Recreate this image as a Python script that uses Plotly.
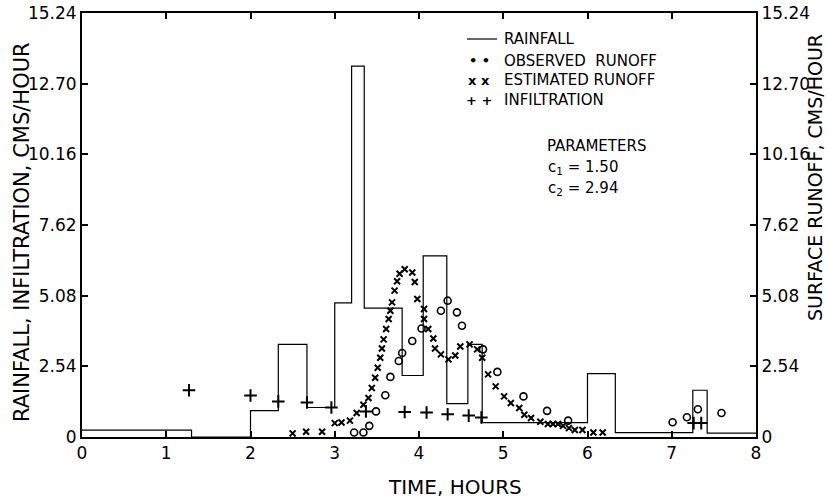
import plotly.graph_objects as go

# Rainfall step function (start times of each step, rate in cm/hour)
rain_t = [0.0, 1.3, 2.0, 2.33, 2.67, 3.0, 3.2, 3.35, 3.8, 4.05, 4.33, 4.58, 4.75, 6.0, 6.33, 7.25, 7.42, 8.0]
rain_v = [0.25, 0.0, 0.95, 3.33, 1.06, 4.82, 13.33, 4.63, 2.21, 6.51, 1.2, 3.33, 0.52, 2.28, 0.16, 1.68, 0.14, 0.14]

# Observed runoff
obs_t = [3.23, 3.34, 3.41, 3.49, 3.60, 3.66, 3.76, 3.80, 3.92, 4.03, 4.26, 4.34, 4.45, 4.51,
         4.76, 4.93, 5.24, 5.52, 5.77, 7.01, 7.18, 7.31, 7.59]
obs_v = [0.16, 0.16, 0.40, 0.92, 1.50, 2.16, 2.73, 3.02, 3.45, 3.90, 4.54, 4.90, 4.48, 4.00,
         3.15, 2.34, 1.46, 0.94, 0.59, 0.53, 0.71, 1.00, 0.86]

# Estimated runoff
est_t = [2.50, 2.66, 2.85, 3.00, 3.08, 3.18, 3.26, 3.34, 3.40, 3.44, 3.48, 3.51, 3.54, 3.56,
         3.58, 3.61, 3.64, 3.66, 3.68, 3.71, 3.74, 3.77, 3.83, 3.92, 3.95, 3.98, 4.06, 4.06,
         4.11, 4.17, 4.19, 4.26, 4.35, 4.43, 4.49, 4.60, 4.69, 4.75, 4.82, 4.91, 5.01, 5.09,
         5.19, 5.25, 5.33, 5.44, 5.53, 5.59, 5.65, 5.71, 5.78, 5.85, 5.94, 6.07, 6.18]
est_v = [0.13, 0.19, 0.19, 0.50, 0.52, 0.59, 0.86, 1.16, 1.40, 1.76, 2.13, 2.49, 2.85, 3.18,
         3.51, 3.88, 4.24, 4.54, 4.84, 5.26, 5.60, 5.87, 6.03, 5.91, 5.57, 4.96, 4.60, 4.24,
         3.88, 3.54, 3.18, 2.97, 2.79, 2.93, 3.25, 3.33, 3.15, 2.85, 2.25, 1.82, 1.46, 1.22,
         1.04, 0.80, 0.68, 0.55, 0.47, 0.47, 0.47, 0.40, 0.32, 0.25, 0.25, 0.16, 0.16]

# Infiltration
inf_t = [1.27, 2.00, 2.33, 2.67, 2.96, 3.37, 3.83, 4.09, 4.34, 4.59, 4.74, 7.26, 7.35]
inf_v = [1.68, 1.49, 1.28, 1.24, 1.06, 0.92, 0.90, 0.88, 0.82, 0.77, 0.70, 0.50, 0.50]

y_ticks = [0, 2.54, 5.08, 7.62, 10.16, 12.70, 15.24]
y_labels = ["0", "2.54", "5.08", "7.62", "10.16", "12.70", "15.24"]
x_ticks = [0, 1, 2, 3, 4, 5, 6, 7, 8]

FONT = "DejaVu Sans"

fig = go.Figure()
fig.add_trace(go.Scatter(x=rain_t, y=rain_v, mode="lines", line_shape="hv",
                         line=dict(color="black", width=1.2), name="RAINFALL"))
fig.add_trace(go.Scatter(x=obs_t, y=obs_v, mode="markers",
                         marker=dict(symbol="circle-open", size=7, color="black", line=dict(width=1.6)),
                         name="OBSERVED RUNOFF"))
fig.add_trace(go.Scatter(x=est_t, y=est_v, mode="markers",
                         marker=dict(symbol="x-thin-open", size=6, color="black", line=dict(width=2)),
                         name="ESTIMATED RUNOFF"))
fig.add_trace(go.Scatter(x=inf_t, y=inf_v, mode="markers",
                         marker=dict(symbol="cross-thin-open", size=9, color="black", line=dict(width=2)),
                         name="INFILTRATION"))
# invisible trace to activate right axis
fig.add_trace(go.Scatter(x=[0], y=[0], yaxis="y2", mode="markers", marker=dict(opacity=0),
                         showlegend=False, hoverinfo="skip"))

axis_common = dict(showgrid=False, zeroline=False, showline=True, linecolor="black", linewidth=2,
                   ticks="inside", ticklen=6, tickwidth=1.5, tickcolor="black", automargin=False,
                   ticklabeloverflow="allow",
                   tickfont=dict(family=FONT, size=17, color="black"))

fig.update_layout(
    width=829, height=500,
    margin=dict(l=82, r=73, t=13, b=63, autoexpand=False),
    paper_bgcolor="white", plot_bgcolor="white",
    showlegend=False,
    xaxis=dict(range=[0, 8], tickvals=x_ticks, mirror="ticks", **axis_common),
    yaxis=dict(range=[0, 15.24], tickvals=y_ticks, ticktext=y_labels, **axis_common),
    yaxis2=dict(range=[0, 15.24], tickvals=y_ticks, ticktext=y_labels, overlaying="y", side="right",
                **axis_common),
)


def px2paper(px, py):
    return (px - 82) / (756 - 82), (437 - py) / (437 - 13)


anns = []


def add_text(text, px, py, size=13, angle=0, xanchor="center"):
    xp, yp = px2paper(px, py)
    anns.append(dict(text=text, x=xp, y=yp, xref="paper", yref="paper", showarrow=False,
                     textangle=angle, xanchor=xanchor, yanchor="middle",
                     font=dict(family=FONT, size=size, color="black")))


add_text("TIME, HOURS", 455, 487, size=20)
add_text("RAINFALL, INFILTRATION, CMS/HOUR", 22, 232, size=21, angle=-90)
add_text("SURFACE RUNOFF, CMS/HOUR", 815, 178, size=19, angle=-90)

# legend block
leg_rows = [("RAINFALL", 39), ("OBSERVED  RUNOFF", 61), ("ESTIMATED RUNOFF", 80), ("INFILTRATION", 100)]
leg_syms = [None, "\u2022 \u2022", "x x", "+ +"]
for (label, py), sym in zip(leg_rows, leg_syms):
    add_text(label, 502, py, size=15, xanchor="left")
    if sym:
        add_text("<b>" + sym + "</b>", 479, py, size=13)

x0, yl = px2paper(467, 39)
x1, _ = px2paper(497, 39)
fig.add_shape(type="line", xref="paper", yref="paper", x0=x0, x1=x1, y0=yl, y1=yl,
              line=dict(color="black", width=1.2))

add_text("PARAMETERS", 596, 146, size=15)
add_text("c<sub>1</sub> = 1.50", 583, 167, size=15)
add_text("c<sub>2</sub> = 2.94", 583, 188, size=15)

fig.update_layout(annotations=anns)
fig.write_html("out.html", config={"displayModeBar": False},
               post_script="document.body.style.margin='0';document.body.style.padding='0';")
